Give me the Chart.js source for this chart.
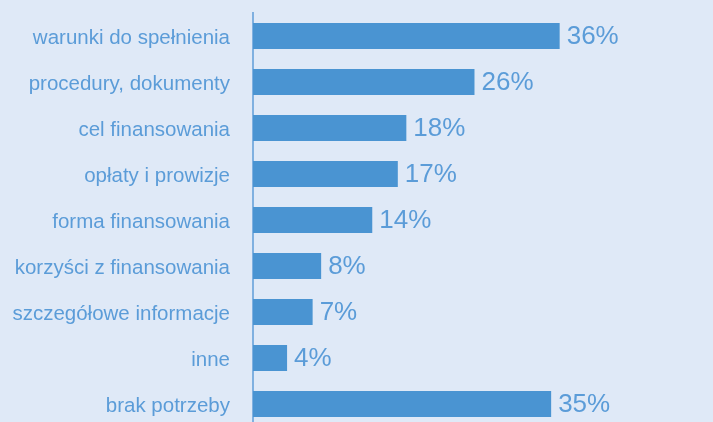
<!DOCTYPE html>
<html>
<head>
<meta charset="utf-8">
<script src="https://cdn.jsdelivr.net/npm/chart.js@4"></script>
<style>
  html, body { margin: 0; padding: 0; overflow: hidden; background: #dfe9f7; }
  canvas { display: block; }
</style>
</head>
<body>
<canvas id="chart" width="713" height="440"></canvas>
<script>
// data
var categories = [
    "warunki do spełnienia",
    "procedury, dokumenty",
    "cel finansowania",
    "opłaty i prowizje",
    "forma finansowania",
    "korzyści z finansowania",
    "szczegółowe informacje",
    "inne",
    "brak potrzeby"
];
var values = [36, 26, 18, 17, 14, 8, 7, 4, 35];

var barColor = "#4a94d2";
var textColor = "#5b9cd8";

// value labels after each bar
var valueLabels = {
    id: "valueLabels",
    afterDatasetsDraw: function (chart) {
        var ctx = chart.ctx;
        var meta = chart.getDatasetMeta(0);
        ctx.save();
        ctx.fillStyle = textColor;
        ctx.font = "26px 'Liberation Sans', Arial, sans-serif";
        ctx.textAlign = "left";
        ctx.textBaseline = "middle";
        meta.data.forEach(function (bar, i) {
            ctx.fillText(values[i] + "%", bar.x + 7, bar.y + 1);
        });
        ctx.restore();
    }
};

new Chart(document.getElementById("chart"), {
    type: "bar",
    data: {
        labels: categories,
        datasets: [{
            data: values,
            backgroundColor: barColor,
            barPercentage: 0.565,
            categoryPercentage: 1
        }]
    },
    options: {
        indexAxis: "y",
        responsive: false,
        animation: false,
        layout: { padding: { top: 13, bottom: 13, left: 0, right: 0 } },
        plugins: {
            legend: { display: false },
            tooltip: { enabled: false }
        },
        scales: {
            x: {
                display: false,
                min: 0,
                max: 54
            },
            y: {
                grid: { display: false },
                border: { display: true, color: "#7fb0e0", width: 2 },
                ticks: {
                    color: textColor,
                    padding: 15,
                    labelOffset: 2,
                    font: { family: "'Liberation Sans', Arial, sans-serif", size: 20.5 }
                },
                afterFit: function (scale) {
                    scale.width = 253;
                    scale.paddingTop = 0;
                    scale.paddingBottom = 0;
                }
            }
        }
    },
    plugins: [valueLabels]
});
</script>
</body>
</html>
